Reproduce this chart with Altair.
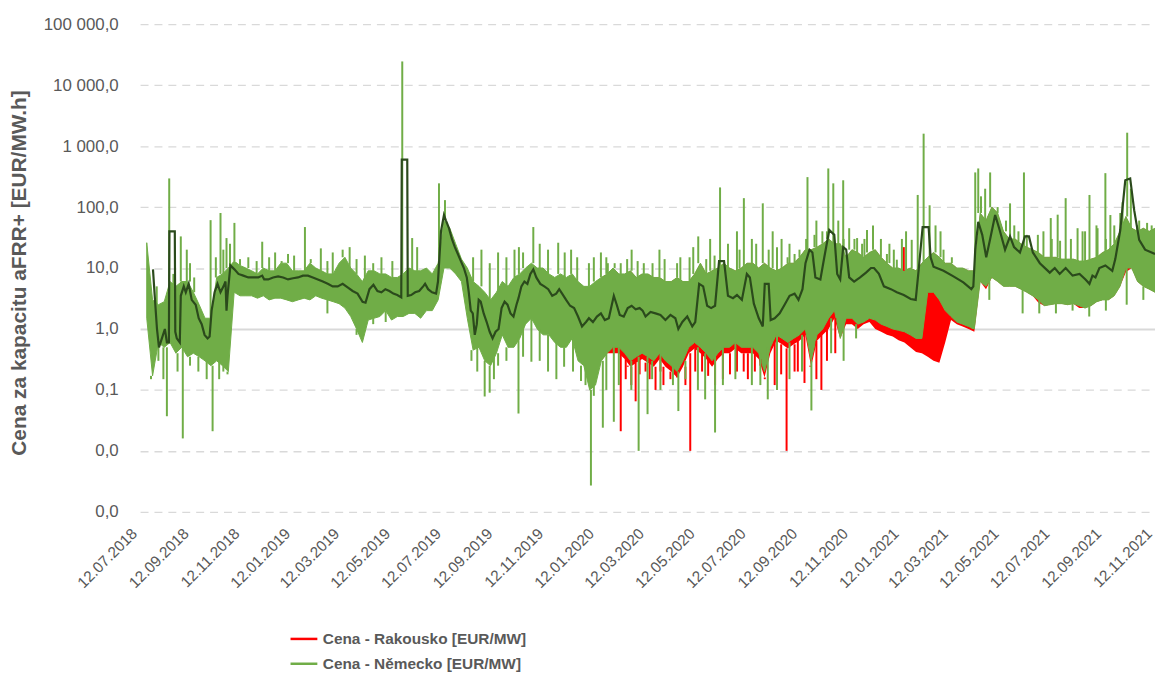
import altair as alt
import numpy as np
import pandas as pd

START = pd.Timestamp("2018-07-12")
END = pd.Timestamp("2021-11-12")
BAND_DAY0 = 8           # first weekly sample (days after 12.07.2018)
RED_K0 = 78             # first weekly sample of the Austrian low envelope

R_NAME = "Cena - Rakousko [EUR/MW]"
G_NAME = "Cena - Německo [EUR/MW]"

# --- Německo: weekly upper / lower envelope of the hourly price band ---
G_HI = [26, 3, 2.5, 2.8, 6, 5, 6, 6, 4, 2.5,
        1.5, 1.5, 7, 8, 10, 13, 11, 10, 9, 8,
        10, 9, 9, 12, 12, 9, 9, 9, 12, 10,
        9, 8, 8, 12, 15, 10, 8, 6, 9, 9,
        8, 8, 7, 7, 8, 10, 9, 9, 10, 8,
        12, 60, 45, 25, 14, 10, 6, 5, 4, 3,
        4, 6, 5, 7, 8, 10, 12, 10, 10, 8,
        7, 8, 7, 8, 6, 5, 5, 6, 7, 8,
        10, 8, 8, 9, 7, 8, 8, 7, 7, 6,
        6, 7, 6, 6, 8, 12, 8, 9, 10, 12,
        10, 9, 10, 12, 12, 10, 12, 10, 9, 10,
        12, 12, 15, 20, 20, 22, 25, 30, 25, 25,
        15, 20, 18, 15, 18, 20, 15, 12, 10, 10,
        9, 10, 9, 12, 15, 18, 15, 12, 12, 10,
        10, 9, 9, 80, 60, 100, 80, 40, 30, 30,
        25, 22, 20, 18, 15, 15, 15, 14, 14, 14,
        13, 13, 14, 15, 18, 20, 25, 40, 70, 45,
        40, 45, 40, 45]
G_LO = [1.5, 0.17, 0.6, 0.5, 0.6, 0.4, 0.5, 0.35, 0.4, 0.35,
        0.3, 0.25, 0.3, 0.25, 0.2, 4, 3.5, 3.5, 3.5, 3.2,
        3.5, 3, 3.2, 3.2, 3, 2.8, 3, 3.2, 3, 3.5,
        3.2, 3, 2.8, 2.6, 2.2, 1.6, 1.0, 0.6, 1.4, 1.5,
        1.6, 2, 1.4, 1.6, 1.6, 1.8, 1.8, 1.5, 2, 2,
        3, 10, 10, 8, 6, 1.5, 0.45, 0.5, 0.3, 0.25,
        0.4, 0.8, 0.5, 0.5, 0.7, 1.2, 1.5, 1.0, 0.8, 0.8,
        0.6, 0.5, 0.5, 0.7, 0.3, 0.25, 0.1, 0.12, 0.3, 0.4,
        0.5, 0.5, 0.4, 0.3, 0.35, 0.4, 0.35, 0.3, 0.4, 0.3,
        0.25, 0.2, 0.3, 0.5, 0.6, 0.5, 0.4, 0.3, 0.4, 0.5,
        0.5, 0.6, 0.5, 0.5, 0.5, 0.4, 0.2, 0.5, 0.8, 0.7,
        0.6, 0.7, 0.8, 1.0, 0.3, 0.8, 1.0, 1.5, 2.0, 0.7,
        1.5, 1.5, 1.2, 1.3, 1.5, 1.4, 1.2, 1.1, 1.0, 0.95,
        0.9, 0.8, 0.7, 0.7, 4, 4, 3, 2, 1.6, 1.3,
        1.2, 1.1, 1.0, 6, 5, 7, 6, 5, 5, 5,
        4.5, 4, 3.5, 3.0, 2.4, 2.5, 2.6, 2.6, 2.5, 2.6,
        2.4, 2.2, 2.4, 2.8, 3.0, 3.0, 3.5, 5, 10, 10,
        6, 5, 4.5, 4]

# --- Rakousko: weekly lower envelope (from week 78) ---
R_LO = [0.3, 0.4, 0.4, 0.4, 0.32, 0.24, 0.28, 0.32, 0.28, 0.24,
        0.32, 0.24, 0.2, 0.16, 0.24, 0.4, 0.48, 0.4, 0.32, 0.24,
        0.32, 0.4, 0.4, 0.48, 0.4, 0.4, 0.4, 0.32, 0.16, 0.4,
        0.64, 0.56, 0.48, 0.56, 0.64, 0.8, 0.24, 0.64, 0.8,
        1.0, 1.5, 0.7, 1.2, 1.2, 1.0, 1.2, 1.3, 1.0, 0.9,
        0.8, 0.75, 0.65, 0.6, 0.5, 0.42, 0.4, 0.35, 0.3, 0.28,
        0.6, 1.4, 1.2, 1.1, 1.0, 0.9, 6, 4.5, 7, 6,
        5, 5, 5, 4.5, 4, 3.5, 2.7, 2.4, 2.5, 2.6,
        2.6, 2.5, 2.6, 2.2, 2.2, 2.4, 2.8, 3.0, 3.0, 3.5,
        5, 8.5, 10, 6, 5, 4.5, 4]

# --- single price spikes (day after 12.07.2018, value) ---
G_UP_DAY = [35, 48.9, 56.1, 84.7, 96.6, 103.8, 113.3, 130, 146.7, 162.2,
            177.7, 198, 217.1, 231.4, 243.3, 251.7, 289.9, 303, 314.9, 326.8,
            332.8, 359, 366.2, 449.7, 472.3, 502.2, 517.7, 539.1, 553.5, 561.8,
            577.3, 590.4, 597.6, 615.5, 623.8, 648.9, 664.4, 670.4, 684.7, 696.6,
            706.1, 716.9, 725.2, 734.8, 747.9, 759.8, 770.5, 777.7, 786.1, 792,
            801.6, 812.3, 819.5, 826.6, 832.6, 838.6, 844.5, 851.7, 861.2, 867.2,
            873.1, 880.3, 889.8, 897, 905.3, 908.9, 926.8, 934, 941.1, 948.3,
            955.4, 961.4, 1003.1, 1006.7, 1021, 1044.9, 1061.6, 1078.3, 1093.8, 1102.1,
            1111.7, 1126, 1132, 1140.3, 1148.7, 1159.4, 1165.4, 1170.1, 1177.3, 1185.6,
            1197.6, 1209.5]
G_UP_VAL = [295, 33, 20, 61, 80, 31, 55, 15, 27, 18,
            17, 47, 21, 18, 20, 22, 15, 13, 24500, 31,
            22, 245, 130, 20, 47, 26, 20, 12, 18, 12,
            12, 20, 13, 12, 20, 15, 22, 33, 30, 210,
            25, 40, 140, 30, 115, 40, 30, 15, 17, 20,
            310, 60, 40, 430, 245, 60, 275, 45, 31, 25,
            42, 50, 30, 17, 20, 13.7, 29, 158, 1600, 107,
            50, 40, 370, 430, 370, 115, 370, 35, 66, 75,
            140, 45, 40, 158, 50, 360, 74, 50, 80, 1660,
            50, 55]
# smaller spikes that make up the ragged edge of the band
G_UP2_DAY = [20, 40, 60, 65, 91, 100, 108, 120, 140, 155,
             170, 185, 205, 225, 260, 270, 280, 400, 410, 420,
             430, 440, 455, 460, 480, 490, 510, 525, 545, 560,
             570, 585, 605, 630, 645, 660, 680, 690, 720, 740,
             755, 765, 780, 800, 810, 825, 845, 858, 870, 900,
             915, 920, 965, 975, 1010, 1015, 1030, 1040, 1050, 1055,
             1065, 1085, 1095, 1105, 1118, 1135, 1150, 1160, 1180, 1190,
             1200, 1215]
G_UP2_VAL = [5, 8, 12, 7, 15, 20, 25, 14, 13, 15,
             13, 16, 14, 13, 14, 16, 12, 15, 20, 12,
             18, 15, 22, 18, 25, 20, 18, 15, 15, 15,
             12, 14, 12, 14, 12, 15, 14, 16, 20, 25,
             20, 22, 25, 30, 35, 40, 30, 30, 30, 25,
             30, 40, 20, 15, 150, 200, 100, 60, 50, 40,
             35, 40, 30, 28, 30, 40, 45, 30, 120, 200,
             60, 50]
G_DN_DAY = [13.1, 32.2, 51.3, 87.1, 105, 413.9, 419.9, 454.5, 470, 509.3,
            529.6, 541.5, 555.8, 569, 598.8, 609.5, 646.5, 678.7, 690.6, 734.8,
            753.9, 806.3]
G_DN_VAL = [0.15, 0.037, 0.016, 0.021, 0.18, 0.078, 0.09, 0.041, 0.29, 0.24,
            0.14, 0.0027, 0.024, 0.03, 0.01, 0.04, 0.045, 0.07, 0.02, 0.12,
            0.07, 0.046]
G_DN2_DAY = [22, 28, 45, 60, 70, 80, 95, 100, 225, 260,
             280, 295, 398, 405, 425, 430, 440, 460, 480, 490,
             500, 520, 535, 545, 560, 575, 590, 615, 625, 640,
             655, 670, 700, 715, 745, 765, 780, 795, 830, 845,
             860, 1000, 1020, 1060, 1080, 1100, 1120, 1140, 1160, 1185,
             1205]
G_DN2_VAL = [0.3, 0.15, 0.2, 0.25, 0.2, 0.15, 0.15, 0.2, 1.8, 0.8,
             1.2, 1.3, 0.3, 0.2, 0.15, 0.25, 0.3, 0.35, 0.3, 0.2,
             0.15, 0.2, 0.12, 0.08, 0.1, 0.12, 0.1, 0.15, 0.1, 0.12,
             0.15, 0.1, 0.12, 0.15, 0.12, 0.1, 0.15, 0.2, 0.4, 0.3,
             0.7, 3.5, 3, 1.8, 1.8, 1.8, 2, 1.6, 2, 2.5,
             3]
R_DN_DAY = [577.3, 583.3, 585.7, 595.2, 607.1, 619.1, 628.6, 637, 660.8, 666.8,
            682.3, 690.6, 708.5, 716.9, 730, 738.4, 750.3, 762.2, 776.5, 786.1,
            798, 812.3, 818.3, 590, 600, 612, 625, 645, 655, 675,
            700, 725, 745, 770, 790, 805, 825, 835]
R_DN_VAL = [0.021, 0.15, 0.25, 0.065, 0.2, 0.1, 0.12, 0.15, 0.01, 0.2,
            0.17, 0.12, 0.18, 0.2, 0.15, 0.2, 0.15, 0.12, 0.01, 0.2,
            0.13, 0.15, 0.1, 0.12, 0.18, 0.15, 0.2, 0.18, 0.12, 0.2,
            0.15, 0.2, 0.25, 0.18, 0.2, 0.25, 0.3, 0.4]
R_UP_DAY = [917.3]
R_UP_VAL = [22]

# --- dark smoothed (moving average) line ---
DK_DAY = [15.5, 17.9, 20.3, 22.7, 26.2, 29.8, 32.2, 34.6, 35.2, 41.7,
          42.3, 44.1, 47.7, 48.9, 52.5, 54.9, 58.4, 62, 66.8, 70.4,
          74, 77.5, 81.1, 83.5, 85.9, 89.5, 93, 96.6, 100.2, 102.6,
          103.8, 105, 108.5, 113.3, 118.1, 124, 130, 136, 142, 146.7,
          149.1, 153.9, 159.8, 165.8, 171.8, 177.7, 183.7, 189.7, 195.6, 201.6,
          207.5, 213.5, 219.5, 225.4, 231.4, 237.4, 243.3, 249.3, 255.3, 261.2,
          267.2, 270.8, 275.5, 280.3, 285.1, 289.9, 294.6, 299.4, 304.2, 308.9,
          313.7, 314.3, 320.9, 321.5, 325.6, 330.4, 335.2, 340, 342.3, 345.9,
          350.7, 355.5, 357.8, 361.4, 365, 367.4, 371, 374.5, 378.1, 381.7,
          385.3, 388.9, 392.4, 394.8, 397.2, 399.6, 402, 404.4, 406.7, 409.1,
          412.7, 416.3, 419.9, 423.4, 427, 430.6, 434.2, 437.8, 441.3, 444.9,
          448.5, 452.1, 454.5, 458, 461.6, 465.2, 468.8, 472.3, 475.9, 480.7,
          485.5, 490.2, 495, 499.8, 503.4, 506.9, 511.7, 516.5, 521.3, 526,
          530.8, 535.6, 539.1, 543.9, 548.7, 553.5, 558.2, 563, 566.6, 569,
          572.5, 576.1, 580.9, 585.7, 590.4, 595.2, 600, 603.6, 607.1, 613.1,
          619.1, 625, 631, 637, 642.9, 646.5, 651.3, 657.2, 663.2, 666.8,
          671.5, 676.3, 681.1, 685.9, 690.6, 695.4, 701.4, 706.1, 712.1, 716.9,
          722.8, 728.8, 732.4, 737.2, 743.1, 747.9, 750.3, 755, 757.4, 762.2,
          768.2, 774.1, 780.1, 786.1, 790.8, 795.6, 799.2, 804, 807.5, 811.1,
          817.1, 821.8, 827.8, 833.8, 837.3, 840.9, 844.5, 848.1, 851.7, 857.6,
          864.8, 871.9, 877.9, 881.5, 887.4, 893.4, 901.8, 908.9, 917.3, 925.6,
          931.6, 935.2, 939.9, 947.1, 949.5, 953, 965, 976.9, 988.8, 998.4,
          1000.8, 1003.1, 1006.7, 1011.5, 1016.3, 1021, 1027, 1031.8, 1038.9, 1044.9,
          1049.7, 1056.8, 1062.8, 1067.6, 1072.3, 1080.7, 1092.6, 1098.6, 1104.5, 1111.7,
          1120, 1128.4, 1135.5, 1140.3, 1143.9, 1147.5, 1152.2, 1159.4, 1167.7, 1171.3,
          1177.3, 1183.3, 1189.2, 1194, 1200, 1207.1, 1219]
DK_VAL = [9.5, 3, 1.0, 0.5, 0.7, 1.0, 0.6, 0.6, 40, 40,
          0.9, 0.7, 0.6, 3.5, 5, 4, 5.5, 3, 2.5, 1.5,
          1.2, 0.8, 0.7, 0.75, 2, 4, 5.5, 4, 5, 6,
          2, 3.5, 11, 9.5, 8, 7.5, 7, 7, 7, 7.5,
          6.5, 6.5, 7, 7.3, 7, 6.5, 6.8, 7, 7.5, 7.5,
          7, 6.5, 6, 5.5, 5, 5, 5.5, 4.8, 4.2, 3.8,
          2.8, 2.7, 4.5, 5.3, 4.2, 4, 4.5, 4.2, 3.8, 3.6,
          3.3, 600, 600, 3.5, 3.6, 4, 4.2, 5, 5.5, 4.5,
          4, 3.8, 6, 40, 74, 60, 45, 30, 22, 17,
          13, 10, 7, 4, 2, 1.8, 0.8, 1.2, 3, 2.8,
          1.8, 1.3, 0.9, 0.7, 0.9, 1.0, 2.2, 2.8, 2.5, 1.8,
          1.6, 2.5, 3.2, 5, 6, 5.5, 8, 9.5, 7, 5.5,
          5, 4.5, 3.5, 3.8, 4.5, 3.8, 3, 2.4, 2.2, 1.6,
          1.1, 1.3, 1.5, 1.3, 1.6, 1.8, 1.4, 1.5, 2.5, 3.5,
          2.5, 1.7, 1.6, 2.2, 2.4, 2.1, 2.2, 2.0, 1.6, 1.9,
          1.8, 1.7, 1.4, 1.7, 1.5, 1.0, 1.3, 1.6, 1.1, 1.3,
          5.5, 5.0, 2.4, 2.2, 2.4, 13, 13, 3.5, 3.2, 3.6,
          3.0, 8, 7, 2.6, 1.5, 1.1, 5.5, 5.5, 1.4, 1.5,
          1.8, 2.5, 3.5, 3.8, 3.0, 4.5, 12, 20, 18, 7,
          6.5, 15, 42, 35, 8, 6.5, 22, 20, 7, 6,
          7, 8.4, 10, 10, 8, 5, 4.5, 4, 3.6, 3.1,
          3.0, 9.5, 47, 47, 15, 10.5, 9, 7.3, 5.8, 4.5,
          5, 20, 57, 35, 15, 30, 74, 45, 20, 33,
          22, 18, 33, 33, 18, 12, 8.4, 10, 8, 10,
          7.5, 8, 6.5, 5.5, 7.5, 7, 10, 11, 9, 14,
          42, 275, 295, 89, 29, 20, 17]

Y_TICKS = [0.001, 0.01, 0.1, 1, 10, 100, 1000, 10000, 100000]

GREEN = "#70AD47"
RED = "#FF0000"
DARK = "#2B4A1C"
GREY = "#595959"
FONT = "Liberation Sans"


def iso(days):
    return [(START + pd.Timedelta(days=float(d))).strftime("%Y-%m-%dT%H:%M:%SZ") for d in days]


def ms(ts):
    return int((ts - pd.Timestamp("1970-01-01")).total_seconds() * 1000)


n = len(G_HI)
band_days = [BAND_DAY0 + 7 * k for k in range(n)]
band = pd.DataFrame({"date": iso(band_days), "lo": G_LO, "hi": G_HI})
red_days = [BAND_DAY0 + 7 * (RED_K0 + i) for i in range(len(R_LO))]
red = pd.DataFrame({"date": iso(red_days), "lo": R_LO, "hi": G_HI[RED_K0:]})


def nearest(days, arr, k0=0):
    out = []
    for d in days:
        k = int(round((d - BAND_DAY0) / 7)) - k0
        k = min(max(k, 0), len(arr) - 1)
        out.append(arr[k])
    return out


def spike_frame(days, vals, base, name, k0=0):
    return pd.DataFrame({"date": iso(days), "v": vals, "b": nearest(days, base, k0), "series": name})


spikes = pd.concat([
    spike_frame(G_UP2_DAY, G_UP2_VAL, G_HI, G_NAME),
    spike_frame(G_DN2_DAY, G_DN2_VAL, G_LO, G_NAME),
    spike_frame(G_UP_DAY, G_UP_VAL, G_HI, G_NAME),
    spike_frame(G_DN_DAY, G_DN_VAL, G_LO, G_NAME),
])
rspikes = pd.concat([
    spike_frame(R_DN_DAY, R_DN_VAL, R_LO, R_NAME, RED_K0),
    spike_frame(R_UP_DAY, R_UP_VAL, G_HI, R_NAME),
])
dark = pd.DataFrame({"date": iso(DK_DAY), "v": DK_VAL})

tick_dates = pd.date_range(START, END, freq=pd.DateOffset(months=2))
x_ticks = [ms(t) for t in tick_dates]

x_axis = alt.Axis(values=x_ticks, labelExpr="utcFormat(datum.value, '%d.%m.%Y')",
                  labelAngle=-45, labelFontSize=15.5, labelColor=GREY, labelFont=FONT,
                  domain=False, ticks=False, grid=False, labelPadding=14, labelOffset=-11,
                  labelOverlap=False, labelBound=False, labelFlush=False)
y_axis = alt.Axis(values=Y_TICKS,
                  labelExpr="datum.value < 0.05 ? '0,0' : replace(replace(format(datum.value, ',.1f'), ',', ' '), '.', ',')",
                  labelFontSize=17, labelColor=GREY, labelFont=FONT, labelPadding=22,
                  domain=False, ticks=False, grid=True, gridColor="#D9D9D9",
                  gridDash={"condition": {"test": "datum.value === 1", "value": []}, "value": [8, 6]},
                  gridWidth={"condition": {"test": "datum.value === 1", "value": 2}, "value": 1.3},
                  title="Cena za kapacitu aFRR+ [EUR/MW.h]", titleFont=FONT, titleFontSize=21,
                  titleFontWeight="bold", titleColor=GREY, titleX=-121, titleY=250,
                  titleAlign="center", titleBaseline="middle")

x_scale = alt.Scale(type="utc", domain=[ms(START), ms(END)])
y_scale = alt.Scale(type="log", domain=[0.001, 100000])

X = alt.X("date:T", scale=x_scale, axis=x_axis, title=None)

color = alt.Color("series:N", scale=alt.Scale(domain=[R_NAME, G_NAME], range=[RED, GREEN]),
                  legend=alt.Legend(title=None, orient="none", legendX=150, legendY=604,
                                    direction="vertical", labelFont=FONT, labelFontSize=15.5,
                                    labelFontWeight="bold", labelColor=GREY, symbolType="stroke",
                                    symbolSize=729, symbolStrokeWidth=2.5, rowPadding=1,
                                    labelOffset=4, padding=0, labelLimit=500))

red_area = alt.Chart(red).mark_area(color=RED).encode(
    x=X, y=alt.Y("lo:Q", scale=y_scale, axis=y_axis), y2="hi:Q")
green_area = alt.Chart(band).mark_area(color=GREEN, stroke=GREEN, strokeWidth=1).encode(
    x=X, y=alt.Y("lo:Q", scale=y_scale, axis=y_axis), y2="hi:Q")
red_rules = alt.Chart(rspikes).mark_rule(strokeWidth=2).encode(
    x=X, y=alt.Y("v:Q", scale=y_scale, axis=y_axis), y2="b:Q", color=color)
green_rules = alt.Chart(spikes).mark_rule(strokeWidth=2).encode(
    x=X, y=alt.Y("v:Q", scale=y_scale, axis=y_axis), y2="b:Q", color=color)
dark_line = alt.Chart(dark).mark_line(color=DARK, strokeWidth=2.2).encode(
    x=X, y=alt.Y("v:Q", scale=y_scale, axis=y_axis))

chart = alt.layer(red_area, green_area, red_rules, green_rules, dark_line).properties(
    width=1022, height=491,
    padding={"left": 133, "top": 14, "right": 0, "bottom": 162},
    autosize=alt.AutoSizeParams(type="none"),
).configure(font=FONT).configure_view(stroke="transparent")

chart.save("out.html", embed_options={"renderer": "svg", "actions": False})
